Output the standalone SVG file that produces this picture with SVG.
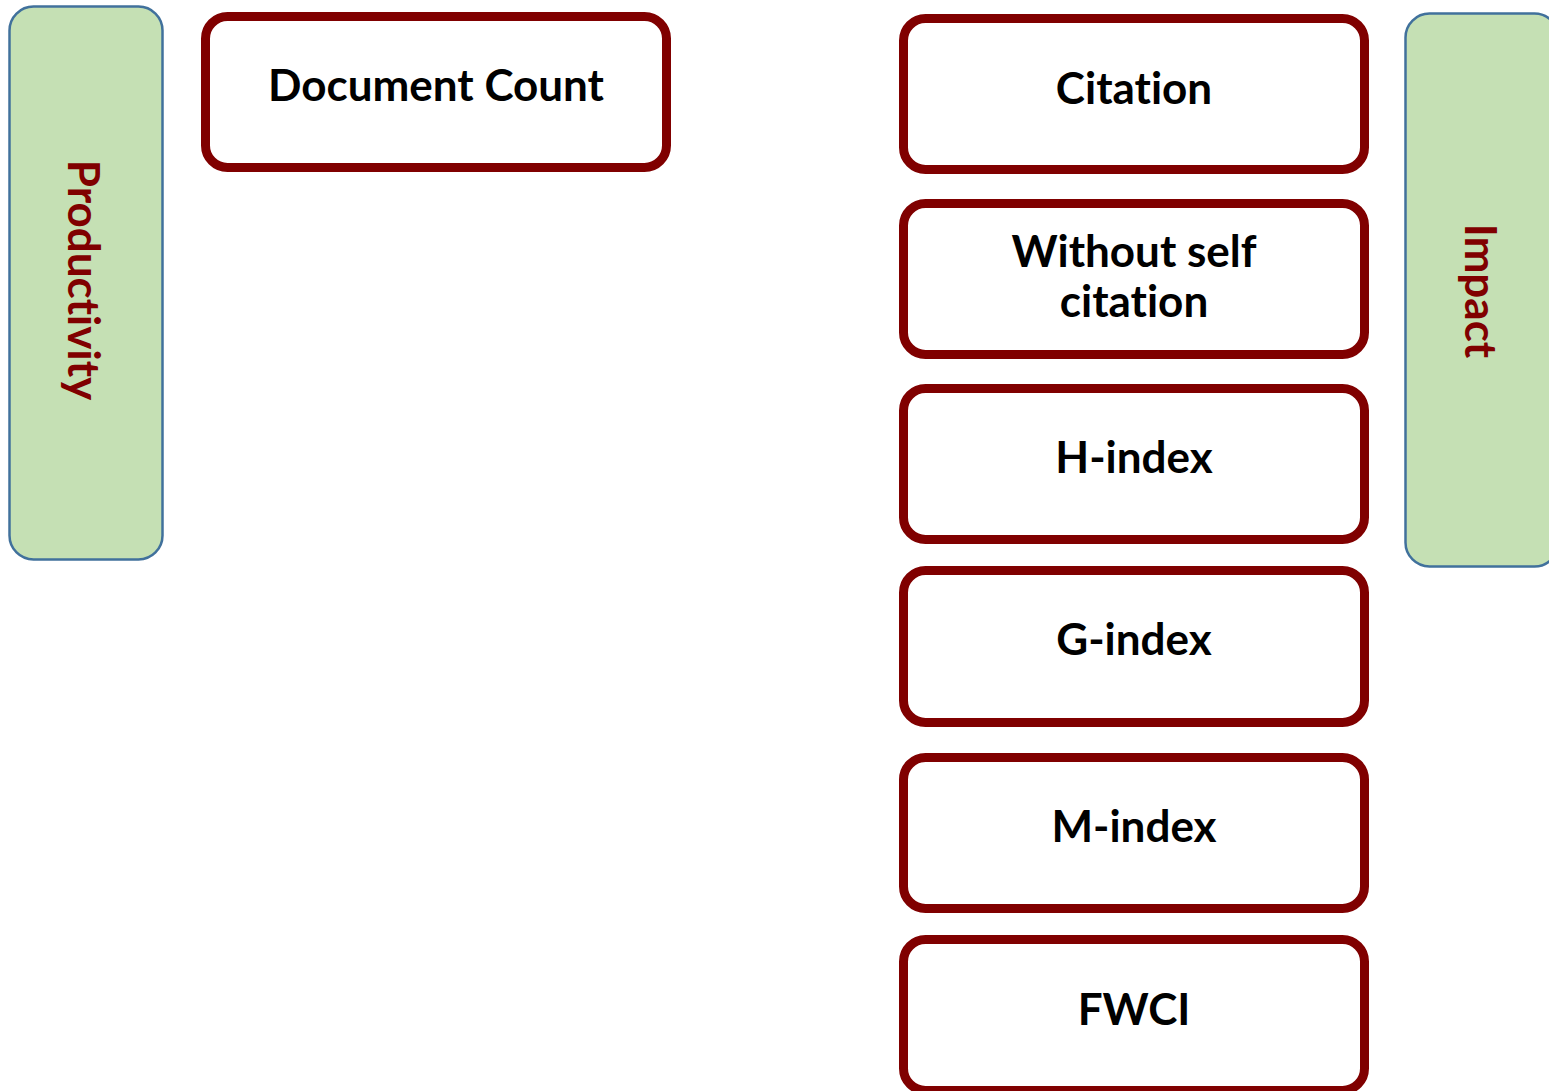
<svg xmlns="http://www.w3.org/2000/svg" width="1549" height="1091" viewBox="0 0 1549 1091">
<style>
.cat{fill:#C5E0B4;stroke:#41719C;stroke-width:2.5}
.box{fill:#FFFFFF;stroke:#800000;stroke-width:9}
.lbl{font-family:Lato,"Liberation Sans",sans-serif;font-weight:bold;font-size:44px;fill:#000000;text-anchor:middle;font-variant-ligatures:none}
.cl{font-family:Lato,"Liberation Sans",sans-serif;font-weight:bold;font-size:44px;fill:#800000;text-anchor:middle;font-variant-ligatures:none}
</style>
<rect width="1549" height="1091" fill="#FFFFFF"/>
<g id="productivity">
<rect class="cat" x="9.5" y="6.5" width="153" height="553" rx="24"/>
<text class="cl" transform="translate(68,280) rotate(90)">Productivity</text>
</g>
<g id="impact">
<rect class="cat" x="1405.5" y="13.5" width="153" height="553" rx="24"/>
<text class="cl" transform="translate(1465,291) rotate(90)">Impact</text>
</g>
<g id="document-count">
<rect class="box" x="205.5" y="16.5" width="461" height="151" rx="22"/>
<text class="lbl" x="436" y="101">Document Count</text>
</g>
<g id="citation">
<rect class="box" x="903.5" y="18.5" width="461" height="151" rx="22"/>
<text class="lbl" x="1134" y="104">Citation</text>
</g>
<g id="without-self-citation">
<rect class="box" x="903.5" y="203.5" width="461" height="151" rx="22"/>
<text class="lbl" x="1134" y="267">Without self</text>
<text class="lbl" x="1134" y="317">citation</text>
</g>
<g id="h-index">
<rect class="box" x="903.5" y="388.5" width="461" height="151" rx="22"/>
<text class="lbl" x="1134" y="473">H-index</text>
</g>
<g id="g-index">
<rect class="box" x="903.5" y="570.5" width="461" height="152" rx="22"/>
<text class="lbl" x="1134" y="655">G-index</text>
</g>
<g id="m-index">
<rect class="box" x="903.5" y="757.5" width="461" height="151" rx="22"/>
<text class="lbl" x="1134" y="842">M-index</text>
</g>
<g id="fwci">
<rect class="box" x="903.5" y="939.5" width="461" height="151" rx="22"/>
<text class="lbl" x="1134" y="1025">FWCI</text>
</g>
<g id="connectors"></g>
</svg>
